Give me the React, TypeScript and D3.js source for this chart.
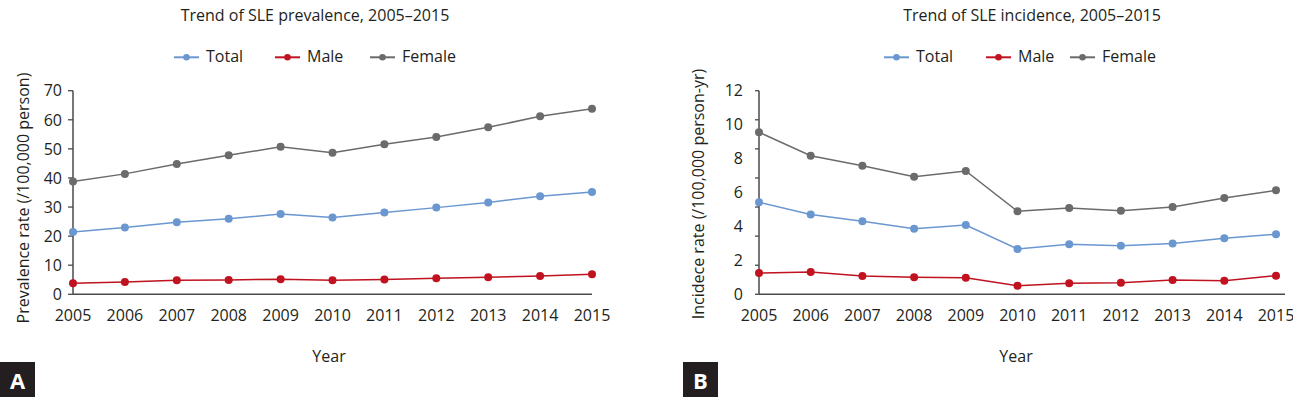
import * as d3 from 'd3'
import React, { useRef, useEffect } from 'react'

const years = ['2005', '2006', '2007', '2008', '2009', '2010', '2011', '2012', '2013', '2014', '2015']
const seriesNames = ['Total', 'Male', 'Female']
const seriesColors = ['#6a97d0', '#c0121f', '#6b6b6b']

// prevalence (/100,000 person)
const prevTotal = [21.4, 23.0, 24.8, 26.0, 27.6, 26.4, 28.1, 29.8, 31.6, 33.7, 35.2]
const prevMale = [3.8, 4.2, 4.8, 4.9, 5.2, 4.8, 5.1, 5.5, 5.9, 6.3, 6.9]
const prevFemale = [38.8, 41.4, 44.8, 47.8, 50.7, 48.7, 51.6, 54.1, 57.4, 61.2, 63.8]
const prevTicks = [0, 10, 20, 30, 40, 50, 60, 70]

// incidence (/100,000 person-yr)
const incTotal = [5.42, 4.71, 4.30, 3.87, 4.08, 2.67, 2.95, 2.86, 3.0, 3.30, 3.54]
const incMale = [1.25, 1.31, 1.08, 1.0, 0.98, 0.51, 0.65, 0.68, 0.84, 0.80, 1.10]
const incFemale = [9.55, 8.17, 7.58, 6.93, 7.27, 4.89, 5.09, 4.93, 5.14, 5.67, 6.13]
const incTicks = [0, 2, 4, 6, 8, 10, 12]

const FONT = '"Open Sans", sans-serif'
const TEXT = '#231f20'

const App = () => {
  const ref = useRef<SVGSVGElement | null>(null)

  useEffect(() => {
    const svg = d3.select(ref.current)
    svg.selectAll('*').remove()

    const panels = [
      {
        title: 'Trend of SLE prevalence, 2005\u20132015',
        ylabel: 'Prevalence rate (/100,000 person)',
        letter: 'A',
        data: [prevTotal, prevMale, prevFemale],
        ticks: prevTicks,
        marks: 7, // tick marks drawn on the axis
        x0: 73, x1: 592, axisEnd: 592,
        titleX: 315, ylabelX: 23, ylabelY: 198, yearX: 329,
        labelGap: 11, tickLen: 5,
        legendX: [174, 275, 370],
        letterX: 0,
      },
      {
        title: 'Trend of SLE incidence, 2005\u20132015',
        ylabel: 'Incidece rate (/100,000 person-yr)',
        letter: 'B',
        data: [incTotal, incMale, incFemale],
        ticks: incTicks,
        marks: 7,
        x0: 759, x1: 1276, axisEnd: 1285,
        titleX: 1032, ylabelX: 698, ylabelY: 194, yearX: 1016,
        labelGap: 16, tickLen: 4,
        legendX: [884, 986, 1070],
        letterX: 683,
      },
    ]

    panels.forEach(p => {
      const g = svg.append('g')
      const x = d3.scalePoint().domain(years).range([p.x0, p.x1])
      const y = d3.scaleLinear()
        .domain([0, p.ticks[p.ticks.length - 1]])
        .range([294.3, 90.7])

      // title
      g.append('text')
        .attr('x', p.titleX)
        .attr('y', 20.5)
        .attr('text-anchor', 'middle')
        .style('font-family', FONT)
        .style('font-size', '16px')
        .attr('fill', TEXT)
        .text(p.title)

      // legend
      seriesNames.forEach((name, i) => {
        const lx = p.legendX[i]
        g.append('line')
          .attr('x1', lx).attr('x2', lx + 25)
          .attr('y1', 57.3).attr('y2', 57.3)
          .attr('stroke', seriesColors[i])
          .attr('stroke-width', 2)
        g.append('circle')
          .attr('cx', lx + 12.5).attr('cy', 57.3).attr('r', 3.3)
          .attr('fill', seriesColors[i])
        g.append('text')
          .attr('x', lx + 32)
          .attr('y', 62)
          .style('font-family', FONT)
          .style('font-size', '16px')
          .attr('fill', TEXT)
          .text(name)
      })

      // axes
      const axisColor = '#4a4a4a'
      const [yBottom, yTop] = y.range()
      g.append('line')
        .attr('x1', p.x0).attr('x2', p.x0)
        .attr('y1', yTop).attr('y2', yBottom)
        .attr('stroke', axisColor).attr('stroke-width', 1.5)
      g.append('line')
        .attr('x1', p.x0).attr('x2', p.axisEnd)
        .attr('y1', yBottom).attr('y2', yBottom)
        .attr('stroke', axisColor).attr('stroke-width', 1.5)

      // tick marks, evenly spaced along the axis as in the figure
      d3.range(p.marks + 1).forEach(i => {
        const ty = yBottom + (yTop - yBottom) * i / p.marks
        g.append('line')
          .attr('x1', p.x0 - p.tickLen).attr('x2', p.x0)
          .attr('y1', ty).attr('y2', ty)
          .attr('stroke', axisColor).attr('stroke-width', 1.3)
      })

      p.ticks.forEach(t => {
        g.append('text')
          .attr('x', p.x0 - p.labelGap)
          .attr('y', y(t))
          .attr('dy', '0.36em')
          .attr('text-anchor', 'end')
          .style('font-family', FONT)
          .style('font-size', '16px')
          .attr('fill', TEXT)
          .text(t)
      })

      years.forEach(yr => {
        g.append('text')
          .attr('x', x(yr))
          .attr('y', 320.7)
          .attr('text-anchor', 'middle')
          .style('font-family', FONT)
          .style('font-size', '16px')
          .attr('fill', TEXT)
          .text(yr)
      })

      // axis titles
      g.append('text')
        .attr('x', p.yearX)
        .attr('y', 361.5)
        .attr('text-anchor', 'middle')
        .style('font-family', FONT)
        .style('font-size', '16px')
        .attr('fill', TEXT)
        .text('Year')

      g.append('text')
        .attr('transform', `translate(${p.ylabelX},${p.ylabelY}) rotate(-90)`)
        .attr('text-anchor', 'middle')
        .attr('dy', '0.35em')
        .style('font-family', FONT)
        .style('font-size', '16px')
        .attr('fill', TEXT)
        .text(p.ylabel)

      // series
      const line = d3.line<number>()
        .x((d, i) => x(years[i]) as number)
        .y(d => y(d))

      p.data.forEach((vals, si) => {
        g.append('path')
          .datum(vals)
          .attr('d', line)
          .attr('fill', 'none')
          .attr('stroke', seriesColors[si])
          .attr('stroke-width', 1.5)
        g.selectAll(null)
          .data(vals)
          .enter().append('circle')
          .attr('cx', (d, i) => x(years[i]) as number)
          .attr('cy', d => y(d))
          .attr('r', 4)
          .attr('fill', seriesColors[si])
      })

      // panel letter
      g.append('rect')
        .attr('x', p.letterX).attr('y', 362)
        .attr('width', 35).attr('height', 35)
        .attr('fill', TEXT)
      g.append('text')
        .attr('x', p.letterX + 17.5)
        .attr('y', 389)
        .attr('text-anchor', 'middle')
        .style('font-family', FONT)
        .style('font-size', '22px')
        .style('font-weight', 'bold')
        .attr('fill', '#fff')
        .text(p.letter)
    })
  }, [])

  return (
    <svg ref={ref} width={1293} height={397}
      style={{ position: 'absolute', left: 0, top: 0, background: '#fff' }} />
  )
}

export default App
